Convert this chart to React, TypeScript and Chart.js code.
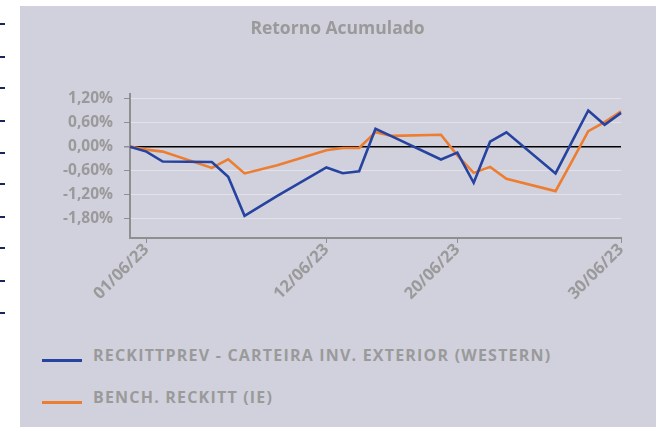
import React, { useEffect, useRef } from "react";
import { Chart, registerables } from "chart.js";

Chart.register(...registerables);

const categories = [
  "31/05/23", "01/06/23", "02/06/23", "03/06/23", "04/06/23", "05/06/23", "06/06/23", "07/06/23",
  "08/06/23", "09/06/23", "10/06/23", "11/06/23", "12/06/23", "13/06/23", "14/06/23", "15/06/23",
  "16/06/23", "17/06/23", "18/06/23", "19/06/23", "20/06/23", "21/06/23", "22/06/23", "23/06/23",
  "24/06/23", "25/06/23", "26/06/23", "27/06/23", "28/06/23", "29/06/23", "30/06/23",
];

const shownTicks = ["01/06/23", "12/06/23", "20/06/23", "30/06/23"];
const yTicks = [-1.8, -1.2, -0.6, 0, 0.6, 1.2];

const portfolioName = "RECKITTPREV - CARTEIRA INV. EXTERIOR (WESTERN)";
const portfolio = [
  0, -0.125, -0.375, null, null, -0.385, -0.76, -1.74, null, -1.24, null, null, -0.525, -0.67, -0.62, 0.45,
  0.26, null, null, -0.325, -0.15, -0.91, 0.125, 0.36, null, null, -0.675, 0.12, 0.91, 0.55, 0.85,
];

const benchName = "BENCH. RECKITT (IE)";
const bench = [
  0, -0.075, -0.125, null, null, -0.535, -0.32, -0.675, null, -0.47, null, null, -0.09, -0.035, -0.035, 0.365,
  0.27, null, null, 0.3, -0.22, -0.66, -0.51, -0.81, null, null, -1.12, -0.37, 0.39, 0.615, 0.89,
];

const titleText = "Retorno Acumulado";

const BLUE = "#2743a0";
const ORANGE = "#ed7d31";
const GRAY = "#9a9a9a";
const PANEL = "#d0d1dd";
const FONT = "'Open Sans', sans-serif";

export default function App() {
  const ref = useRef<HTMLCanvasElement>(null);

  useEffect(() => {
    if (!ref.current) return;
    const chart = new Chart(ref.current, {
      type: "line",
      data: {
        labels: categories,
        datasets: [
          { label: portfolioName, data: portfolio, borderColor: BLUE, backgroundColor: BLUE, borderWidth: 2.6, pointRadius: 0, spanGaps: true, tension: 0 },
          { label: benchName, data: bench, borderColor: ORANGE, backgroundColor: ORANGE, borderWidth: 2.6, pointRadius: 0, spanGaps: true, tension: 0 },
        ],
      },
      options: {
        animation: false,
        responsive: false,
        devicePixelRatio: 1,
        layout: { padding: { left: 34, right: 35, top: 0, bottom: 0 } },
        plugins: {
          legend: { display: false },
          tooltip: { enabled: false },
          title: {
            display: true,
            text: titleText,
            color: GRAY,
            font: { family: FONT, size: 17.5, weight: "bold" },
            padding: { top: 13, bottom: 54 },
          },
        },
        scales: {
          x: {
            type: "category",
            offset: false,
            afterBuildTicks: (scale: any) => {
              scale.ticks = scale.ticks.filter((t: any) => shownTicks.includes(categories[t.value]));
            },
            afterFit: (scale: any) => {
              scale.height = 80;
            },
            border: { display: true, color: "#8f8f8f", width: 2 },
            grid: { drawOnChartArea: false, drawTicks: true, tickLength: 5, color: "#8f8f8f", lineWidth: 1 },
            ticks: {
              autoSkip: false,
              minRotation: 45,
              maxRotation: 45,
              padding: -3,
              color: GRAY,
              font: { family: FONT, size: 16.5, weight: "bold" },
              callback: (v: any) => categories[v as number],
            },
          },
          y: {
            min: -2.3,
            max: 1.325,
            afterBuildTicks: (scale: any) => {
              scale.ticks = yTicks.map((v) => ({ value: v }));
            },
            afterFit: (scale: any) => {
              scale.width = 76;
            },
            border: { display: true, color: "#8f8f8f", width: 2 },
            grid: {
              drawTicks: true,
              tickLength: 6,
              tickColor: "#8f8f8f",
              color: (ctx: any) => (ctx.tick && ctx.tick.value === 0 ? "#000000" : "#e2e2e8"),
              lineWidth: (ctx: any) => (ctx.tick && ctx.tick.value === 0 ? 1.5 : 1),
            },
            ticks: {
              padding: 11,
              color: GRAY,
              font: { family: FONT, size: 15.5, weight: "bold" },
              callback: (v: any) => {
                const n = Math.abs(Number(v)) < 1e-9 ? 0 : Number(v);
                return n.toFixed(2).replace(".", ",") + "%";
              },
            },
          },
        },
      },
    });
    return () => chart.destroy();
  }, []);

  const dashYs = [24, 57, 88, 121, 153, 184, 217, 248, 281, 313];

  return (
    <div style={{ position: "absolute", left: 0, top: 0, width: 656, height: 428, background: "#ffffff", overflow: "hidden" }}>
      {dashYs.map((y) => (
        <div key={y} style={{ position: "absolute", left: 0, top: y - 1, width: 5, height: 2, background: "#1e2456" }} />
      ))}
      <div style={{ position: "absolute", left: 20, top: 6, width: 636, height: 421, background: PANEL }} />
      <canvas ref={ref} width={636} height={312} style={{ position: "absolute", left: 20, top: 6, width: 636, height: 312 }} />
      {[
        { name: portfolioName, color: BLUE, y: 355 },
        { name: benchName, color: ORANGE, y: 397 },
      ].map((it) => (
        <div key={it.name} style={{ position: "absolute", left: 0, top: it.y - 12, height: 24, width: 656 }}>
          <div style={{ position: "absolute", left: 42, top: 15.5, width: 40, height: 3, background: it.color }} />
          <div
            style={{
              position: "absolute",
              left: 93,
              top: 0,
              height: 24,
              lineHeight: "24px",
              whiteSpace: "nowrap",
              fontFamily: FONT,
              fontWeight: 700,
              fontSize: 16,
              letterSpacing: "1.2px",
              color: GRAY,
            }}
          >
            {it.name}
          </div>
        </div>
      ))}
    </div>
  );
}
